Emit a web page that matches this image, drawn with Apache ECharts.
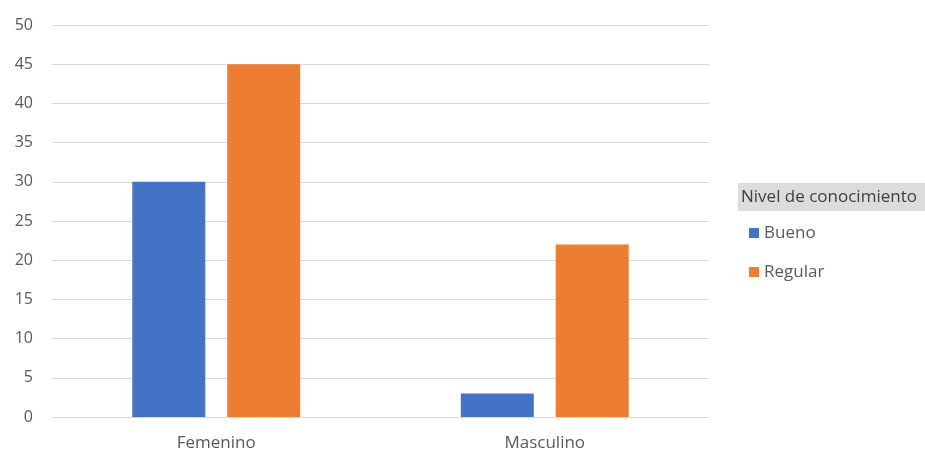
<!DOCTYPE html>
<html>
<head>
<meta charset="utf-8">
<script src="https://cdn.jsdelivr.net/npm/echarts@6/dist/echarts.min.js"></script>
<style>html,body{margin:0;padding:0;background:#fff}#c{width:925px;height:452px}</style>
</head>
<body>
<div id="c"></div>
<script>
const categories = ['Femenino', 'Masculino'];
const bueno = [30, 3];
const regular = [45, 22];
const seriesNames = ['Bueno', 'Regular'];
const legendTitle = 'Nivel de conocimiento';

const chart = echarts.init(document.getElementById('c'));
const font = '"Open Sans", "Noto Sans", sans-serif';
chart.setOption({
  animation: false,
  textStyle: { fontFamily: font },
  title: {
    text: legendTitle,
    left: 738, top: 183,
    backgroundColor: '#dcdcdc',
    padding: [5, 12, 5, 3],
    textStyle: { fontFamily: font, fontSize: 17, fontWeight: 'normal', color: '#404040', lineHeight: 18 }
  },
  legend: {
    data: seriesNames,
    orient: 'vertical',
    left: 744, top: 219,
    itemWidth: 10, itemHeight: 10, itemGap: 21,
    icon: 'rect',
    textStyle: { fontFamily: font, fontSize: 17, color: '#595959', lineHeight: 18 }
  },
  grid: { left: 52, right: 216, top: 25, bottom: 34 },
  xAxis: {
    type: 'category',
    data: categories,
    axisTick: { show: false },
    axisLine: { lineStyle: { color: '#d9d9d9' } },
    axisLabel: { fontFamily: font, fontSize: 17, color: '#595959', margin: 18 }
  },
  yAxis: {
    type: 'value',
    min: 0, max: 50, interval: 5,
    axisLine: { show: false },
    axisTick: { show: false },
    splitLine: { lineStyle: { color: '#d9d9d9', width: 1 } },
    axisLabel: { fontFamily: font, fontSize: 16, color: '#595959', margin: 19 }
  },
  series: [
    { name: seriesNames[0], type: 'bar', data: bueno, barWidth: 73, barGap: '30%',
      itemStyle: { color: '#4472c4' } },
    { name: seriesNames[1], type: 'bar', data: regular, barWidth: 73,
      itemStyle: { color: '#ed7d31' } }
  ]
});
</script>
</body>
</html>
